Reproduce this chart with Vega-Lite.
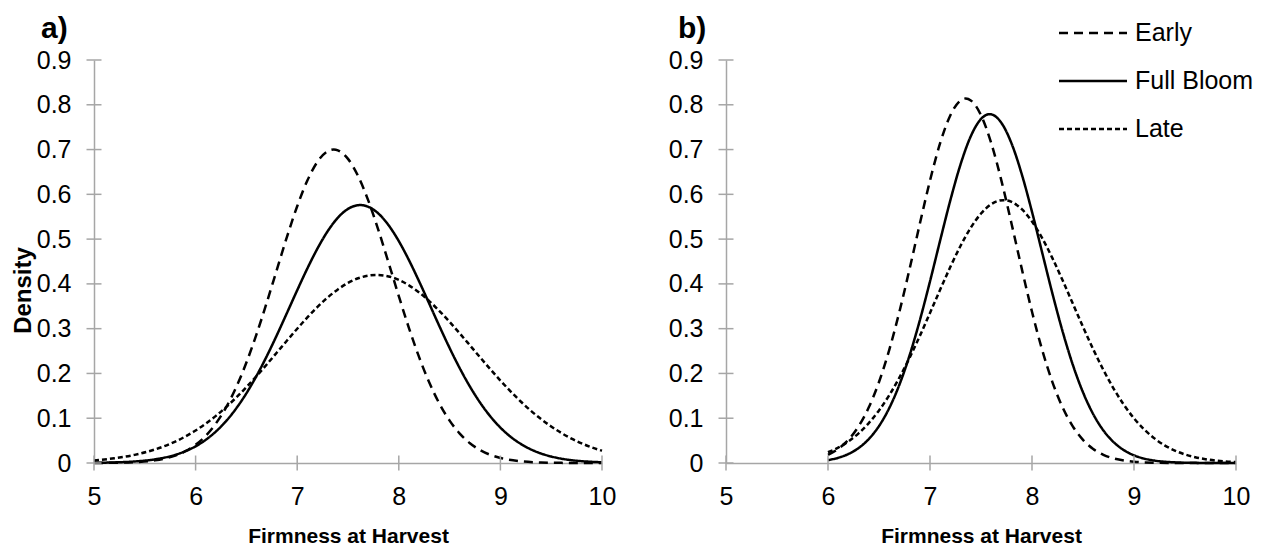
{
  "$schema": "https://vega.github.io/schema/vega-lite/v6.json",
  "padding": {"left": 11, "top": 9, "right": 0, "bottom": 0},
  "config": {
    "view": {"stroke": null},
    "font": "Liberation Sans",
    "axis": {
      "grid": false,
      "ticks": false,
      "tickSize": 0,
      "labelFlush": false,
      "domainColor": "#a6a6a6",
      "domainWidth": 1.5,
      "labelFont": "Liberation Sans",
      "labelFontSize": 25,
      "labelColor": "#000000",
      "titleFont": "Liberation Sans",
      "titleFontSize": 21,
      "titleFontWeight": "bold",
      "titleColor": "#000000"
    },
    "legend": {
      "orient": "none",
      "legendX": 975,
      "legendY": -51,
      "padding": 0,
      "symbolType": "M-1.5,0H1.5",
      "symbolSize": 2055,
      "symbolStrokeWidth": 2.5,
      "symbolStrokeColor": "#000000",
      "symbolFillColor": "transparent",
      "labelFont": "Liberation Sans",
      "labelFontSize": 25,
      "labelColor": "#000000",
      "labelOffset": 18,
      "rowPadding": 11
    },
    "title": {"font": "Liberation Sans", "fontSize": 30, "fontWeight": "bold", "color": "#000000", "anchor": "start", "frame": "group", "baseline": "alphabetic"}
  },
  "datasets": {
    "curves": [
      {"panel": "a", "series": "Early", "x": 5.0, "y": 0.0001},
      {"panel": "a", "series": "Early", "x": 5.2, "y": 0.0005},
      {"panel": "a", "series": "Early", "x": 5.4, "y": 0.0019},
      {"panel": "a", "series": "Early", "x": 5.6, "y": 0.006},
      {"panel": "a", "series": "Early", "x": 5.8, "y": 0.0166},
      {"panel": "a", "series": "Early", "x": 5.9, "y": 0.0263},
      {"panel": "a", "series": "Early", "x": 6.0, "y": 0.0406},
      {"panel": "a", "series": "Early", "x": 6.1, "y": 0.0608},
      {"panel": "a", "series": "Early", "x": 6.2, "y": 0.0883},
      {"panel": "a", "series": "Early", "x": 6.3, "y": 0.1242},
      {"panel": "a", "series": "Early", "x": 6.4, "y": 0.1695},
      {"panel": "a", "series": "Early", "x": 6.5, "y": 0.2243},
      {"panel": "a", "series": "Early", "x": 6.6, "y": 0.2878},
      {"panel": "a", "series": "Early", "x": 6.7, "y": 0.3581},
      {"panel": "a", "series": "Early", "x": 6.8, "y": 0.432},
      {"panel": "a", "series": "Early", "x": 6.9, "y": 0.5055},
      {"panel": "a", "series": "Early", "x": 7.0, "y": 0.5734},
      {"panel": "a", "series": "Early", "x": 7.1, "y": 0.6308},
      {"panel": "a", "series": "Early", "x": 7.2, "y": 0.673},
      {"panel": "a", "series": "Early", "x": 7.3, "y": 0.6961},
      {"panel": "a", "series": "Early", "x": 7.36, "y": 0.7},
      {"panel": "a", "series": "Early", "x": 7.4, "y": 0.6983},
      {"panel": "a", "series": "Early", "x": 7.5, "y": 0.6792},
      {"panel": "a", "series": "Early", "x": 7.6, "y": 0.6406},
      {"panel": "a", "series": "Early", "x": 7.7, "y": 0.5859},
      {"panel": "a", "series": "Early", "x": 7.8, "y": 0.5197},
      {"panel": "a", "series": "Early", "x": 7.9, "y": 0.4469},
      {"panel": "a", "series": "Early", "x": 8.0, "y": 0.3727},
      {"panel": "a", "series": "Early", "x": 8.1, "y": 0.3014},
      {"panel": "a", "series": "Early", "x": 8.2, "y": 0.2363},
      {"panel": "a", "series": "Early", "x": 8.3, "y": 0.1797},
      {"panel": "a", "series": "Early", "x": 8.4, "y": 0.1325},
      {"panel": "a", "series": "Early", "x": 8.5, "y": 0.0947},
      {"panel": "a", "series": "Early", "x": 8.6, "y": 0.0657},
      {"panel": "a", "series": "Early", "x": 8.7, "y": 0.0442},
      {"panel": "a", "series": "Early", "x": 8.8, "y": 0.0288},
      {"panel": "a", "series": "Early", "x": 8.9, "y": 0.0182},
      {"panel": "a", "series": "Early", "x": 9.0, "y": 0.0112},
      {"panel": "a", "series": "Early", "x": 9.2, "y": 0.0038},
      {"panel": "a", "series": "Early", "x": 9.4, "y": 0.0012},
      {"panel": "a", "series": "Early", "x": 9.6, "y": 0.0003},
      {"panel": "a", "series": "Early", "x": 9.8, "y": 0.0001},
      {"panel": "a", "series": "Early", "x": 10.0, "y": 0.0},
      {"panel": "a", "series": "Full Bloom", "x": 5.0, "y": 0.0004},
      {"panel": "a", "series": "Full Bloom", "x": 5.2, "y": 0.0013},
      {"panel": "a", "series": "Full Bloom", "x": 5.4, "y": 0.0034},
      {"panel": "a", "series": "Full Bloom", "x": 5.6, "y": 0.0082},
      {"panel": "a", "series": "Full Bloom", "x": 5.8, "y": 0.0182},
      {"panel": "a", "series": "Full Bloom", "x": 5.9, "y": 0.0264},
      {"panel": "a", "series": "Full Bloom", "x": 6.0, "y": 0.0373},
      {"panel": "a", "series": "Full Bloom", "x": 6.1, "y": 0.0518},
      {"panel": "a", "series": "Full Bloom", "x": 6.2, "y": 0.0704},
      {"panel": "a", "series": "Full Bloom", "x": 6.3, "y": 0.0936},
      {"panel": "a", "series": "Full Bloom", "x": 6.4, "y": 0.122},
      {"panel": "a", "series": "Full Bloom", "x": 6.5, "y": 0.1557},
      {"panel": "a", "series": "Full Bloom", "x": 6.6, "y": 0.1947},
      {"panel": "a", "series": "Full Bloom", "x": 6.7, "y": 0.2383},
      {"panel": "a", "series": "Full Bloom", "x": 6.8, "y": 0.2857},
      {"panel": "a", "series": "Full Bloom", "x": 6.9, "y": 0.3355},
      {"panel": "a", "series": "Full Bloom", "x": 7.0, "y": 0.3858},
      {"panel": "a", "series": "Full Bloom", "x": 7.1, "y": 0.4345},
      {"panel": "a", "series": "Full Bloom", "x": 7.2, "y": 0.4792},
      {"panel": "a", "series": "Full Bloom", "x": 7.3, "y": 0.5177},
      {"panel": "a", "series": "Full Bloom", "x": 7.4, "y": 0.5477},
      {"panel": "a", "series": "Full Bloom", "x": 7.5, "y": 0.5674},
      {"panel": "a", "series": "Full Bloom", "x": 7.62, "y": 0.576},
      {"panel": "a", "series": "Full Bloom", "x": 7.7, "y": 0.5722},
      {"panel": "a", "series": "Full Bloom", "x": 7.8, "y": 0.5569},
      {"panel": "a", "series": "Full Bloom", "x": 7.9, "y": 0.5308},
      {"panel": "a", "series": "Full Bloom", "x": 8.0, "y": 0.4955},
      {"panel": "a", "series": "Full Bloom", "x": 8.1, "y": 0.453},
      {"panel": "a", "series": "Full Bloom", "x": 8.2, "y": 0.4056},
      {"panel": "a", "series": "Full Bloom", "x": 8.3, "y": 0.3557},
      {"panel": "a", "series": "Full Bloom", "x": 8.4, "y": 0.3054},
      {"panel": "a", "series": "Full Bloom", "x": 8.5, "y": 0.2569},
      {"panel": "a", "series": "Full Bloom", "x": 8.6, "y": 0.2116},
      {"panel": "a", "series": "Full Bloom", "x": 8.7, "y": 0.1707},
      {"panel": "a", "series": "Full Bloom", "x": 8.8, "y": 0.1349},
      {"panel": "a", "series": "Full Bloom", "x": 8.9, "y": 0.1044},
      {"panel": "a", "series": "Full Bloom", "x": 9.0, "y": 0.0791},
      {"panel": "a", "series": "Full Bloom", "x": 9.1, "y": 0.0587},
      {"panel": "a", "series": "Full Bloom", "x": 9.2, "y": 0.0427},
      {"panel": "a", "series": "Full Bloom", "x": 9.3, "y": 0.0304},
      {"panel": "a", "series": "Full Bloom", "x": 9.4, "y": 0.0212},
      {"panel": "a", "series": "Full Bloom", "x": 9.5, "y": 0.0145},
      {"panel": "a", "series": "Full Bloom", "x": 9.6, "y": 0.0097},
      {"panel": "a", "series": "Full Bloom", "x": 9.7, "y": 0.0063},
      {"panel": "a", "series": "Full Bloom", "x": 9.8, "y": 0.0041},
      {"panel": "a", "series": "Full Bloom", "x": 9.9, "y": 0.0026},
      {"panel": "a", "series": "Full Bloom", "x": 10.0, "y": 0.0016},
      {"panel": "a", "series": "Late", "x": 5.0, "y": 0.0058},
      {"panel": "a", "series": "Late", "x": 5.2, "y": 0.0105},
      {"panel": "a", "series": "Late", "x": 5.4, "y": 0.0182},
      {"panel": "a", "series": "Late", "x": 5.6, "y": 0.0302},
      {"panel": "a", "series": "Late", "x": 5.8, "y": 0.0479},
      {"panel": "a", "series": "Late", "x": 6.0, "y": 0.0726},
      {"panel": "a", "series": "Late", "x": 6.1, "y": 0.0879},
      {"panel": "a", "series": "Late", "x": 6.2, "y": 0.1053},
      {"panel": "a", "series": "Late", "x": 6.3, "y": 0.1248},
      {"panel": "a", "series": "Late", "x": 6.4, "y": 0.1462},
      {"panel": "a", "series": "Late", "x": 6.5, "y": 0.1694},
      {"panel": "a", "series": "Late", "x": 6.6, "y": 0.1942},
      {"panel": "a", "series": "Late", "x": 6.7, "y": 0.2201},
      {"panel": "a", "series": "Late", "x": 6.8, "y": 0.2467},
      {"panel": "a", "series": "Late", "x": 6.9, "y": 0.2735},
      {"panel": "a", "series": "Late", "x": 7.0, "y": 0.2998},
      {"panel": "a", "series": "Late", "x": 7.1, "y": 0.3251},
      {"panel": "a", "series": "Late", "x": 7.2, "y": 0.3486},
      {"panel": "a", "series": "Late", "x": 7.3, "y": 0.3697},
      {"panel": "a", "series": "Late", "x": 7.4, "y": 0.3877},
      {"panel": "a", "series": "Late", "x": 7.5, "y": 0.4022},
      {"panel": "a", "series": "Late", "x": 7.6, "y": 0.4125},
      {"panel": "a", "series": "Late", "x": 7.7, "y": 0.4185},
      {"panel": "a", "series": "Late", "x": 7.78, "y": 0.42},
      {"panel": "a", "series": "Late", "x": 7.9, "y": 0.4167},
      {"panel": "a", "series": "Late", "x": 8.0, "y": 0.4089},
      {"panel": "a", "series": "Late", "x": 8.1, "y": 0.3968},
      {"panel": "a", "series": "Late", "x": 8.2, "y": 0.3809},
      {"panel": "a", "series": "Late", "x": 8.3, "y": 0.3616},
      {"panel": "a", "series": "Late", "x": 8.4, "y": 0.3394},
      {"panel": "a", "series": "Late", "x": 8.5, "y": 0.3152},
      {"panel": "a", "series": "Late", "x": 8.6, "y": 0.2894},
      {"panel": "a", "series": "Late", "x": 8.7, "y": 0.2628},
      {"panel": "a", "series": "Late", "x": 8.8, "y": 0.236},
      {"panel": "a", "series": "Late", "x": 8.9, "y": 0.2096},
      {"panel": "a", "series": "Late", "x": 9.0, "y": 0.1841},
      {"panel": "a", "series": "Late", "x": 9.1, "y": 0.16},
      {"panel": "a", "series": "Late", "x": 9.2, "y": 0.1374},
      {"panel": "a", "series": "Late", "x": 9.3, "y": 0.1168},
      {"panel": "a", "series": "Late", "x": 9.4, "y": 0.0981},
      {"panel": "a", "series": "Late", "x": 9.5, "y": 0.0816},
      {"panel": "a", "series": "Late", "x": 9.6, "y": 0.067},
      {"panel": "a", "series": "Late", "x": 9.7, "y": 0.0545},
      {"panel": "a", "series": "Late", "x": 9.8, "y": 0.0438},
      {"panel": "a", "series": "Late", "x": 9.9, "y": 0.0348},
      {"panel": "a", "series": "Late", "x": 10.0, "y": 0.0274},
      {"panel": "b", "series": "Early", "x": 6.0, "y": 0.0183},
      {"panel": "b", "series": "Early", "x": 6.1, "y": 0.0314},
      {"panel": "b", "series": "Early", "x": 6.2, "y": 0.0518},
      {"panel": "b", "series": "Early", "x": 6.3, "y": 0.0819},
      {"panel": "b", "series": "Early", "x": 6.4, "y": 0.1243},
      {"panel": "b", "series": "Early", "x": 6.5, "y": 0.1808},
      {"panel": "b", "series": "Early", "x": 6.6, "y": 0.2523},
      {"panel": "b", "series": "Early", "x": 6.7, "y": 0.3377},
      {"panel": "b", "series": "Early", "x": 6.8, "y": 0.4336},
      {"panel": "b", "series": "Early", "x": 6.9, "y": 0.5339},
      {"panel": "b", "series": "Early", "x": 7.0, "y": 0.6307},
      {"panel": "b", "series": "Early", "x": 7.1, "y": 0.7147},
      {"panel": "b", "series": "Early", "x": 7.2, "y": 0.7767},
      {"panel": "b", "series": "Early", "x": 7.3, "y": 0.8098},
      {"panel": "b", "series": "Early", "x": 7.35, "y": 0.814},
      {"panel": "b", "series": "Early", "x": 7.4, "y": 0.8098},
      {"panel": "b", "series": "Early", "x": 7.5, "y": 0.7767},
      {"panel": "b", "series": "Early", "x": 7.6, "y": 0.7147},
      {"panel": "b", "series": "Early", "x": 7.7, "y": 0.6307},
      {"panel": "b", "series": "Early", "x": 7.8, "y": 0.5339},
      {"panel": "b", "series": "Early", "x": 7.9, "y": 0.4336},
      {"panel": "b", "series": "Early", "x": 8.0, "y": 0.3377},
      {"panel": "b", "series": "Early", "x": 8.1, "y": 0.2523},
      {"panel": "b", "series": "Early", "x": 8.2, "y": 0.1808},
      {"panel": "b", "series": "Early", "x": 8.3, "y": 0.1243},
      {"panel": "b", "series": "Early", "x": 8.4, "y": 0.0819},
      {"panel": "b", "series": "Early", "x": 8.5, "y": 0.0518},
      {"panel": "b", "series": "Early", "x": 8.6, "y": 0.0314},
      {"panel": "b", "series": "Early", "x": 8.7, "y": 0.0183},
      {"panel": "b", "series": "Early", "x": 8.8, "y": 0.0102},
      {"panel": "b", "series": "Early", "x": 8.9, "y": 0.0055},
      {"panel": "b", "series": "Early", "x": 9.0, "y": 0.0028},
      {"panel": "b", "series": "Early", "x": 9.2, "y": 0.0007},
      {"panel": "b", "series": "Early", "x": 9.4, "y": 0.0001},
      {"panel": "b", "series": "Early", "x": 9.7, "y": 0.0},
      {"panel": "b", "series": "Early", "x": 10.0, "y": 0.0},
      {"panel": "b", "series": "Full Bloom", "x": 6.0, "y": 0.0065},
      {"panel": "b", "series": "Full Bloom", "x": 6.1, "y": 0.0116},
      {"panel": "b", "series": "Full Bloom", "x": 6.2, "y": 0.0201},
      {"panel": "b", "series": "Full Bloom", "x": 6.3, "y": 0.0334},
      {"panel": "b", "series": "Full Bloom", "x": 6.4, "y": 0.0535},
      {"panel": "b", "series": "Full Bloom", "x": 6.5, "y": 0.0825},
      {"panel": "b", "series": "Full Bloom", "x": 6.6, "y": 0.1224},
      {"panel": "b", "series": "Full Bloom", "x": 6.7, "y": 0.1749},
      {"panel": "b", "series": "Full Bloom", "x": 6.8, "y": 0.2405},
      {"panel": "b", "series": "Full Bloom", "x": 6.9, "y": 0.3183},
      {"panel": "b", "series": "Full Bloom", "x": 7.0, "y": 0.4056},
      {"panel": "b", "series": "Full Bloom", "x": 7.1, "y": 0.4974},
      {"panel": "b", "series": "Full Bloom", "x": 7.2, "y": 0.5872},
      {"panel": "b", "series": "Full Bloom", "x": 7.3, "y": 0.6672},
      {"panel": "b", "series": "Full Bloom", "x": 7.4, "y": 0.7298},
      {"panel": "b", "series": "Full Bloom", "x": 7.5, "y": 0.7683},
      {"panel": "b", "series": "Full Bloom", "x": 7.585, "y": 0.779},
      {"panel": "b", "series": "Full Bloom", "x": 7.7, "y": 0.7596},
      {"panel": "b", "series": "Full Bloom", "x": 7.8, "y": 0.7133},
      {"panel": "b", "series": "Full Bloom", "x": 7.9, "y": 0.6447},
      {"panel": "b", "series": "Full Bloom", "x": 8.0, "y": 0.5609},
      {"panel": "b", "series": "Full Bloom", "x": 8.1, "y": 0.4697},
      {"panel": "b", "series": "Full Bloom", "x": 8.2, "y": 0.3786},
      {"panel": "b", "series": "Full Bloom", "x": 8.3, "y": 0.2938},
      {"panel": "b", "series": "Full Bloom", "x": 8.4, "y": 0.2194},
      {"panel": "b", "series": "Full Bloom", "x": 8.5, "y": 0.1578},
      {"panel": "b", "series": "Full Bloom", "x": 8.6, "y": 0.1092},
      {"panel": "b", "series": "Full Bloom", "x": 8.7, "y": 0.0727},
      {"panel": "b", "series": "Full Bloom", "x": 8.8, "y": 0.0466},
      {"panel": "b", "series": "Full Bloom", "x": 8.9, "y": 0.0288},
      {"panel": "b", "series": "Full Bloom", "x": 9.0, "y": 0.0171},
      {"panel": "b", "series": "Full Bloom", "x": 9.1, "y": 0.0098},
      {"panel": "b", "series": "Full Bloom", "x": 9.2, "y": 0.0054},
      {"panel": "b", "series": "Full Bloom", "x": 9.4, "y": 0.0015},
      {"panel": "b", "series": "Full Bloom", "x": 9.6, "y": 0.0003},
      {"panel": "b", "series": "Full Bloom", "x": 9.8, "y": 0.0001},
      {"panel": "b", "series": "Full Bloom", "x": 10.0, "y": 0.0},
      {"panel": "b", "series": "Late", "x": 6.0, "y": 0.024},
      {"panel": "b", "series": "Late", "x": 6.1, "y": 0.0344},
      {"panel": "b", "series": "Late", "x": 6.2, "y": 0.0483},
      {"panel": "b", "series": "Late", "x": 6.3, "y": 0.0663},
      {"panel": "b", "series": "Late", "x": 6.4, "y": 0.0892},
      {"panel": "b", "series": "Late", "x": 6.5, "y": 0.1174},
      {"panel": "b", "series": "Late", "x": 6.6, "y": 0.1512},
      {"panel": "b", "series": "Late", "x": 6.7, "y": 0.1906},
      {"panel": "b", "series": "Late", "x": 6.8, "y": 0.2351},
      {"panel": "b", "series": "Late", "x": 6.9, "y": 0.2837},
      {"panel": "b", "series": "Late", "x": 7.0, "y": 0.3351},
      {"panel": "b", "series": "Late", "x": 7.1, "y": 0.3874},
      {"panel": "b", "series": "Late", "x": 7.2, "y": 0.4382},
      {"panel": "b", "series": "Late", "x": 7.3, "y": 0.4851},
      {"panel": "b", "series": "Late", "x": 7.4, "y": 0.5255},
      {"panel": "b", "series": "Late", "x": 7.5, "y": 0.5571},
      {"panel": "b", "series": "Late", "x": 7.6, "y": 0.5779},
      {"panel": "b", "series": "Late", "x": 7.72, "y": 0.587},
      {"panel": "b", "series": "Late", "x": 7.8, "y": 0.583},
      {"panel": "b", "series": "Late", "x": 7.9, "y": 0.5668},
      {"panel": "b", "series": "Late", "x": 8.0, "y": 0.5393},
      {"panel": "b", "series": "Late", "x": 8.1, "y": 0.5021},
      {"panel": "b", "series": "Late", "x": 8.2, "y": 0.4575},
      {"panel": "b", "series": "Late", "x": 8.3, "y": 0.408},
      {"panel": "b", "series": "Late", "x": 8.4, "y": 0.356},
      {"panel": "b", "series": "Late", "x": 8.5, "y": 0.304},
      {"panel": "b", "series": "Late", "x": 8.6, "y": 0.2541},
      {"panel": "b", "series": "Late", "x": 8.7, "y": 0.2078},
      {"panel": "b", "series": "Late", "x": 8.8, "y": 0.1663},
      {"panel": "b", "series": "Late", "x": 8.9, "y": 0.1302},
      {"panel": "b", "series": "Late", "x": 9.0, "y": 0.0998},
      {"panel": "b", "series": "Late", "x": 9.1, "y": 0.0749},
      {"panel": "b", "series": "Late", "x": 9.2, "y": 0.055},
      {"panel": "b", "series": "Late", "x": 9.3, "y": 0.0395},
      {"panel": "b", "series": "Late", "x": 9.4, "y": 0.0278},
      {"panel": "b", "series": "Late", "x": 9.5, "y": 0.0191},
      {"panel": "b", "series": "Late", "x": 9.6, "y": 0.0129},
      {"panel": "b", "series": "Late", "x": 9.7, "y": 0.0085},
      {"panel": "b", "series": "Late", "x": 9.8, "y": 0.0055},
      {"panel": "b", "series": "Late", "x": 9.9, "y": 0.0034},
      {"panel": "b", "series": "Late", "x": 10.0, "y": 0.0021}
    ],
    "xticks": [{"x": 5}, {"x": 6}, {"x": 7}, {"x": 8}, {"x": 9}, {"x": 10}],
    "yticks": [{"y": 0}, {"y": 0.1}, {"y": 0.2}, {"y": 0.3}, {"y": 0.4}, {"y": 0.5}, {"y": 0.6}, {"y": 0.7}, {"y": 0.8}, {"y": 0.9}]
  },
  "spacing": 52,
  "hconcat": [
    {
      "width": 508,
      "height": 403,
      "title": {"text": "a)", "dx": -53, "offset": 4},
      "layer": [
        {
          "data": {"name": "curves"},
          "transform": [{"filter": {"field": "panel", "equal": "a"}}],
          "mark": {"type": "line", "interpolate": "monotone", "stroke": "#000000", "strokeWidth": 2.5},
          "encoding": {
            "x": {"field": "x", "type": "quantitative", "scale": {"domain": [5, 10], "nice": false},
                  "axis": {"title": "Firmness at Harvest", "values": [5, 6, 7, 8, 9, 10], "format": "~g", "labelPadding": 21, "titlePadding": 16}},
            "y": {"field": "y", "type": "quantitative", "scale": {"domain": [0, 0.9], "nice": false},
                  "axis": {"title": "Density", "values": [0, 0.1, 0.2, 0.3, 0.4, 0.5, 0.6, 0.7, 0.8, 0.9], "format": "~g", "labelPadding": 23,
                           "titleFontSize": 24, "titleX": -71, "titleY": 230, "titleBaseline": "middle", "titleAlign": "center"}},
            "strokeDash": {"field": "series", "type": "nominal", "title": null,
                           "scale": {"domain": ["Early", "Full Bloom", "Late"], "range": [[9, 6], [1, 0], [5, 3]]}}
          }
        },
        {
          "data": {"name": "xticks"},
          "mark": {"type": "tick", "orient": "vertical", "color": "#a6a6a6", "thickness": 1.5, "size": 15, "opacity": 1},
          "encoding": {"x": {"field": "x", "type": "quantitative"}, "y": {"datum": 0}}
        },
        {
          "data": {"name": "yticks"},
          "mark": {"type": "tick", "orient": "horizontal", "color": "#a6a6a6", "thickness": 1.5, "size": 15, "opacity": 1},
          "encoding": {"y": {"field": "y", "type": "quantitative"}, "x": {"datum": 5}}
        }
      ]
    },
    {
      "width": 510,
      "height": 403,
      "title": {"text": "b)", "dx": -48, "offset": 4},
      "layer": [
        {
          "data": {"name": "curves"},
          "transform": [{"filter": {"field": "panel", "equal": "b"}}],
          "mark": {"type": "line", "interpolate": "monotone", "stroke": "#000000", "strokeWidth": 2.5},
          "encoding": {
            "x": {"field": "x", "type": "quantitative", "scale": {"domain": [5, 10], "nice": false},
                  "axis": {"title": "Firmness at Harvest", "values": [5, 6, 7, 8, 9, 10], "format": "~g", "labelPadding": 21, "titlePadding": 16}},
            "y": {"field": "y", "type": "quantitative", "scale": {"domain": [0, 0.9], "nice": false},
                  "axis": {"title": null, "values": [0, 0.1, 0.2, 0.3, 0.4, 0.5, 0.6, 0.7, 0.8, 0.9], "format": "~g", "labelPadding": 23}},
            "strokeDash": {"field": "series", "type": "nominal", "title": null,
                           "scale": {"domain": ["Early", "Full Bloom", "Late"], "range": [[9, 6], [1, 0], [5, 3]]}}
          }
        },
        {
          "data": {"name": "xticks"},
          "mark": {"type": "tick", "orient": "vertical", "color": "#a6a6a6", "thickness": 1.5, "size": 15, "opacity": 1},
          "encoding": {"x": {"field": "x", "type": "quantitative"}, "y": {"datum": 0}}
        },
        {
          "data": {"name": "yticks"},
          "mark": {"type": "tick", "orient": "horizontal", "color": "#a6a6a6", "thickness": 1.5, "size": 15, "opacity": 1},
          "encoding": {"y": {"field": "y", "type": "quantitative"}, "x": {"datum": 5}}
        }
      ]
    }
  ]
}
